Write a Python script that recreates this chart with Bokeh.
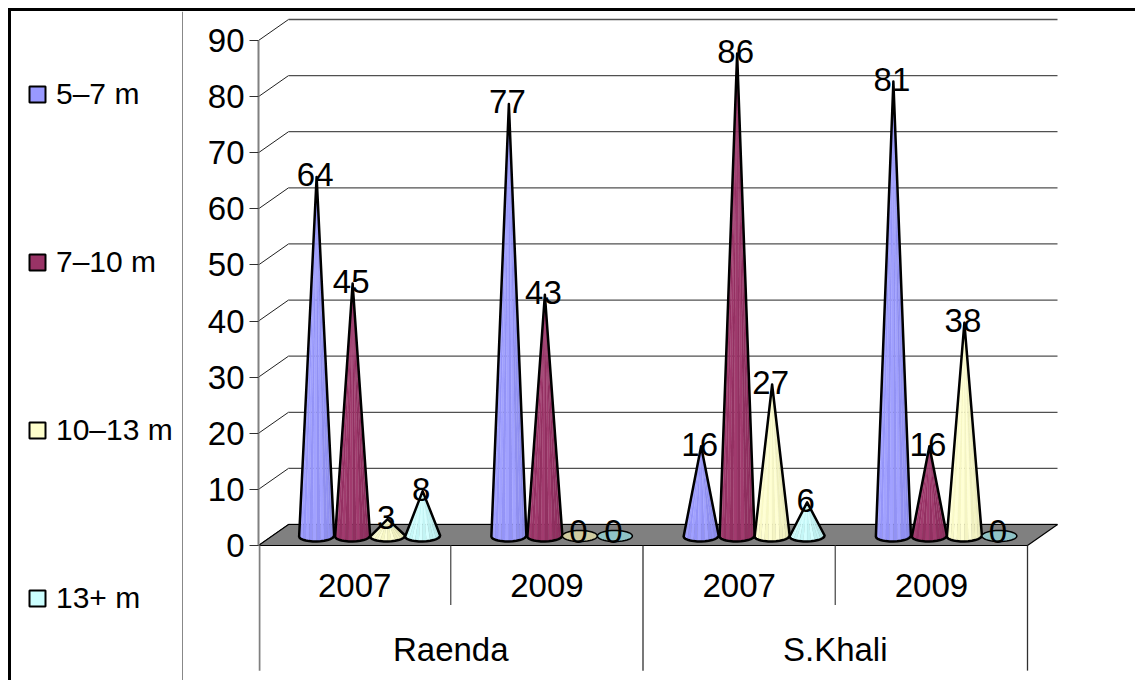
import numpy as np
from bokeh.embed import file_html
from bokeh.resources import INLINE
from bokeh.layouts import row
from bokeh.plotting import figure
from bokeh.models import Range1d, FixedTicker, Legend, LegendItem
from bokeh.core.properties import value

groups = ["Raenda", "S.Khali"]
years = ["2007", "2009", "2007", "2009"]
series_names = ["5–7 m", "7–10 m", "10–13 m", "13+ m"]
s_5_7 = [64, 77, 16, 81]
s_7_10 = [45, 43, 86, 16]
s_10_13 = [3, 0, 27, 38]
s_13_plus = [8, 0, 6, 0]
series_values = [s_5_7, s_7_10, s_10_13, s_13_plus]
colors = ["#9999FF", "#993366", "#FFFFCC", "#CCFFFF"]
flat_colors = ["#9090E0", "#883060", "#CFCBA0", "#8FC3C6"]
y_ticks = list(range(0, 100, 10))

# layout (pixels on the page)
ORIGIN = 11                            # 8 px margin + the 3 px frame of the chart
LEG_R = 183
FRAME_L, FRAME_R, FRAME_T, FRAME_B = 258, 1135, 11, 680
PX_X, PX_Y = 192.25, 505 / 90
Y0_PX = 545
DX, DY = 30 / PX_X, 21 / PX_Y          # depth of the 3D box in data units
BASE_Y = 9.5 / PX_Y                    # base centre above the front floor edge
HALF_W, HALF_H = 17.5 / PX_X, 5.5 / PX_Y
OFFSETS = np.array([-38, -2, 33, 68]) / PX_X
LIFT, LIFT_ZERO = 2 / PX_Y, 5 / PX_Y
LABEL_SHIFT = -1.5 / PX_X
FONT = value("Liberation Sans")

p = figure(width=FRAME_R - LEG_R, height=FRAME_B - ORIGIN, output_backend="svg",
           toolbar_location=None,
           x_range=Range1d(0, (FRAME_R - FRAME_L) / PX_X),
           y_range=Range1d((Y0_PX - FRAME_B) / PX_Y, (Y0_PX - FRAME_T) / PX_Y),
           min_border_left=FRAME_L - LEG_R, min_border_right=0,
           min_border_top=0, min_border_bottom=0,
           x_axis_location=None)
p.xgrid.visible = False
p.ygrid.visible = False
p.outline_line_color = None

ax = p.yaxis[0]
ax.ticker = FixedTicker(ticks=y_ticks)
ax.bounds = (0, 90)
ax.axis_line_color = "#808080"
ax.axis_line_width = 2
ax.major_tick_line_color = "#303030"
ax.major_tick_in = 0
ax.major_tick_out = 9
ax.minor_tick_line_color = None
ax.major_label_text_font = "Liberation Sans"
ax.major_label_text_font_size = "33px"
ax.major_label_text_color = "black"
ax.major_label_standoff = 5

# back wall and side wall lines
n_cat = len(years)
p.segment([0] * len(y_ticks), y_ticks, [DX] * len(y_ticks), [t + DY for t in y_ticks],
          line_color="#202020", line_width=1)
p.segment([DX] * len(y_ticks), [t + DY for t in y_ticks],
          [n_cat + DX] * len(y_ticks), [t + DY for t in y_ticks],
          line_color="#505050", line_width=1.3)
# floor
p.patch([0, DX, n_cat + DX, n_cat], [0, DY, DY, 0],
        fill_color="#808080", line_color="black", line_width=1.2)

# category separators
p.segment([0.005, 1, 2, 3, 4], [0] * 5, [0.005, 1, 2, 3, 4],
          [-22.3, -10.6, -22.3, -10.6, -22.3],
          line_color=["#808080", "#505050", "#303030", "#505050", "#303030"],
          line_width=[2, 1.3, 1.3, 1.3, 1.3])

theta = np.linspace(np.pi, 2 * np.pi, 15)  # front half of the base, left to right
shade = [0.93, 0.99, 0.99, 0.98, 0.99, 0.97, 0.99, 0.96, 0.99, 0.94, 0.96, 0.92, 0.93, 0.9]


def tint(hex_color, f):
    rgb = [int(hex_color[i:i + 2], 16) for i in (1, 3, 5)]
    if f > 0.985:
        rgb = [min(255, c + 8) for c in rgb]
    else:
        rgb = [int(c * f) for c in rgb]
    return "#%02x%02x%02x" % tuple(rgb)


for s, (vals, col, flat) in enumerate(zip(series_values, colors, flat_colors)):
    out_x, out_y, fac_x, fac_y, fac_c, widths = [], [], [], [], [], []
    for c, v in enumerate(vals):
        cx = c + 0.5 + OFFSETS[s]
        ex = cx + HALF_W * np.cos(theta)
        ey = BASE_Y + HALF_H * np.sin(theta) + (theta - 1.5 * np.pi) * 0.06
        if v == 0:
            t = np.linspace(0, 2 * np.pi, 40)
            ox = cx + HALF_W * np.cos(t)
            oy = BASE_Y + HALF_H * np.sin(t)
            out_x.append(ox.tolist()); out_y.append(oy.tolist())
            fac_x.append(ox.tolist()); fac_y.append(oy.tolist()); fac_c.append(flat)
            widths.append(1.5)
            continue
        tip = BASE_Y + v
        out_x.append([cx] + ex.tolist())
        out_y.append([tip] + ey.tolist())
        widths.append(2.5)
        for i in range(len(ex) - 1):
            fac_x.append([cx, ex[i], ex[i + 1]])
            fac_y.append([tip, ey[i], ey[i + 1]])
            fac_c.append(tint(col, shade[i]))
    p.patches(fac_x, fac_y, fill_color=fac_c, line_color=fac_c, line_width=0.3)
    p.patches(out_x, out_y, fill_color=None, line_color="black", line_width=widths,
              line_join="round")

# value labels
for s, vals in enumerate(series_values):
    for c, v in enumerate(vals):
        p.text([c + 0.5 + OFFSETS[s] + LABEL_SHIFT],
               [BASE_Y + v + (LIFT_ZERO if v == 0 else LIFT)],
               text=[str(v)], text_align="center",
               text_baseline="middle", text_font=FONT, text_font_size="33px",
               text_color="black")

# category labels
p.text([i + 0.5 for i in range(n_cat)], [-7.2] * n_cat, text=years, text_align="center",
       text_baseline="middle", text_font=FONT, text_font_size="33px", text_color="black")
p.text([1, 3], [-18.5, -18.5], text=groups, text_align="center",
       text_baseline="middle", text_font=FONT, text_font_size="33px", text_color="black")

# legend panel
leg_w = LEG_R - ORIGIN
leg_h = FRAME_B - ORIGIN
q = figure(width=leg_w, height=leg_h, output_backend="svg", toolbar_location=None,
           x_range=Range1d(0, leg_w), y_range=Range1d(0, leg_h),
           x_axis_location=None, y_axis_location=None,
           min_border_left=0, min_border_right=0, min_border_top=0, min_border_bottom=0)
q.xgrid.visible = False
q.ygrid.visible = False
q.outline_line_color = None
q.segment([leg_w - 0.5], [0], [leg_w - 0.5], [leg_h], line_color="#606060", line_width=1.5)
items = []
for name, col in zip(series_names, colors):
    r = q.quad(left=[np.nan], right=[np.nan], top=[np.nan], bottom=[np.nan],
               fill_color=col, line_color="black", line_width=2)
    items.append(LegendItem(label=name, renderers=[r]))
q.add_layout(Legend(items=items, location=(16, 65), orientation="vertical",
                    label_text_font="Liberation Sans", label_text_font_size="30px",
                    label_text_color="black", glyph_width=20, glyph_height=20,
                    label_standoff=9, spacing=134, padding=0, margin=0,
                    background_fill_alpha=0, border_line_color=None))

page = row(q, p, spacing=0, margin=(8, 0, 0, 8),
           styles={"border-top": "3px solid black", "border-left": "3px solid black"})
open("out.html", "w").write(file_html(page, INLINE))
